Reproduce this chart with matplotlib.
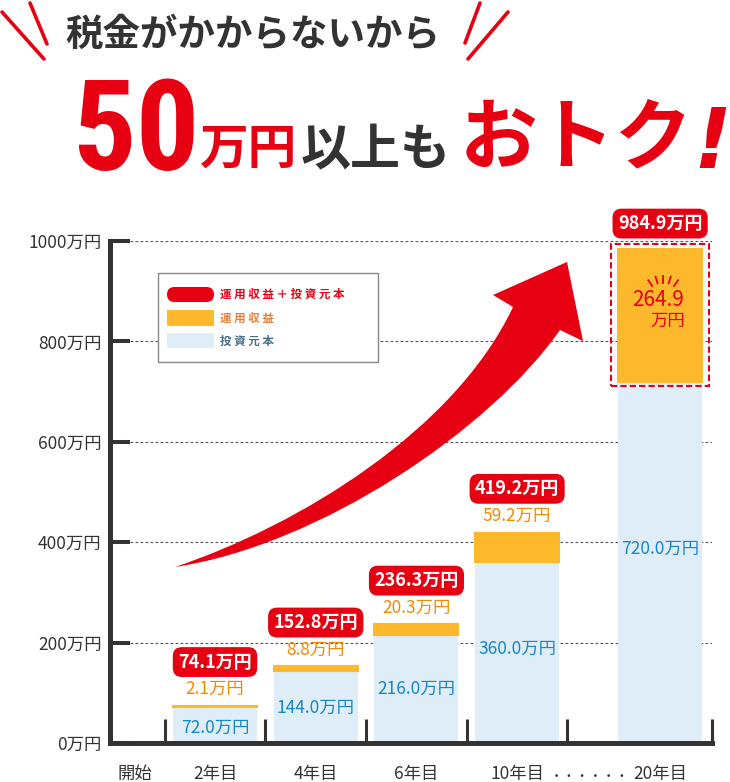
import os
import numpy as np
import matplotlib
matplotlib.use('Agg')
import matplotlib.pyplot as plt
from matplotlib import font_manager as fm
from matplotlib.font_manager import FontProperties
from matplotlib.patches import Rectangle, FancyBboxPatch, PathPatch
from matplotlib.path import Path
from matplotlib.transforms import IdentityTransform
from matplotlib.lines import Line2D

plt.rcParams['font.family'] = ['Noto Sans CJK JP', 'DejaVu Sans']

# data
labels = ['2年目', '4年目', '6年目', '10年目', '20年目']
principal = [72.0, 144.0, 216.0, 360.0, 720.0]
gain = [2.1, 8.8, 20.3, 59.2, 264.9]
total = [74.1, 152.8, 236.3, 419.2, 984.9]
yticks = [0, 200, 400, 600, 800, 1000]

RED = '#e60012'
ORANGE = '#fdb92b'
ORANGE_TXT = '#f28a00'
BLUE = '#deedf7'
BLUE_TXT = '#1587c9'
DARK = '#333333'

H = 782
ID = IdentityTransform()


def P(x, y):
    # pixel coords measured from top-left
    return (x, H - y)


# narrow bold face for the big "50", if one is installed
files = {os.path.basename(f.fname).rsplit('.', 1)[0]: f.fname for f in fm.fontManager.ttflist}
prop50 = FontProperties(family='Liberation Sans', weight='bold')
for c in ['LiberationSansNarrow-Bold', 'RobotoCondensed-Bold', 'NotoSans-ExtraCondensedBold',
          'NotoSans-CondensedBold', 'DejaVuSansCondensed-Bold', 'LiberationSans-Bold']:
    if c in files:
        prop50 = FontProperties(fname=files[c])
        break

fig = plt.figure(figsize=(7.3, 7.82), dpi=100)
ax = fig.add_axes([110 / 730, (H - 743) / H, (712 - 110) / 730, (743 - 241) / H])
ax.set_xlim(-0.043, 5.935)
ax.set_ylim(0, 1000)

xpos = [1, 2, 3, 4, 5.42]
w = 0.834

for s in ['top', 'right']:
    ax.spines[s].set_visible(False)
for s in ['left', 'bottom']:
    ax.spines[s].set_linewidth(3.6)
    ax.spines[s].set_color(DARK)

ax.set_yticks(yticks, [f'{v}万円' for v in yticks])
ax.tick_params(axis='y', direction='in', length=14.5, width=2.9, color=DARK,
               pad=6, labelsize=12.5, labelcolor=DARK)
ax.set_xticks([0.5, 1.5, 2.5, 3.5, 4.5, 5.935], [''] * 6)
ax.tick_params(axis='x', which='major', direction='in', length=17, width=2.2, color=DARK)
ax.set_xticks([0.2] + xpos, ['開始'] + labels, minor=True)
ax.tick_params(axis='x', which='minor', length=0, pad=16, labelsize=12.5, labelcolor=DARK)
ax.text(4.72, -0.067, '・・・・・・', transform=ax.get_xaxis_transform(),
        ha='center', va='center', fontsize=9.5, color=DARK)

ax.hlines(yticks[1:], 0.155, 5.935, colors='#555555', linestyles=(0, (2.5, 2)),
          linewidth=0.8, zorder=0.5)

ax.bar(xpos, principal, w, color=BLUE, zorder=2)
ax.bar(xpos, gain, w, bottom=principal, color=ORANGE, ec=ORANGE, lw=1.5, zorder=2)

red_box = dict(boxstyle='round,pad=0.3,rounding_size=0.5', fc=RED, ec='none')

for i in range(4):
    ax.annotate(f'{gain[i]}万円', (xpos[i], total[i]), xytext=(0, 12),
                textcoords='offset points', ha='center', va='center',
                color=ORANGE_TXT, fontsize=12.5)
    ax.annotate(f'{total[i]}万円', (xpos[i], total[i]), xytext=(0, 31.5),
                textcoords='offset points', ha='center', va='center',
                color='white', fontsize=13, fontweight='bold', bbox=red_box)

for i in range(5):
    ax.text(xpos[i], principal[i] * 0.55 - 10, f'{principal[i]}万円', ha='center',
            va='center', color=BLUE_TXT, fontsize=12.5, zorder=3)

# 20年目
xl, tl = xpos[-1], total[-1]
ax.annotate(f'{tl}万円', (xl, tl), xytext=(0, 18), textcoords='offset points',
            ha='center', va='center', color='white', fontsize=13,
            fontweight='bold', bbox=red_box)
ax.add_patch(Rectangle((xl - w / 2 - 0.07, principal[-1] - 9), w + 0.14, gain[-1] + 18,
                       fill=False, ec=RED, lw=1.5, ls=(0, (3, 1.5)), zorder=4,
                       clip_on=False))
ax.annotate(f'{gain[-1]}', (xl, tl), xytext=(-1.5, -37), textcoords='offset points',
            ha='center', va='center', color=RED, fontsize=15, zorder=4)
ax.annotate('万円', (xl, tl), xytext=(5.5, -52), textcoords='offset points',
            ha='center', va='center', color=RED, fontsize=12.5, zorder=4)
cx, cy = ax.transData.transform((xl, tl))
cx, cy = cx + 3, cy - 53
for a in np.radians([55, 73, 90, 107, 125]):
    fig.add_artist(Line2D([cx + 19 * np.cos(a), cx + 26 * np.cos(a)],
                          [cy + 19 * np.sin(a), cy + 26 * np.sin(a)],
                          transform=ID, color=RED, lw=1.3))

# arrow
verts = [P(175, 567), P(300, 525), P(455, 430), P(513, 307),
         P(493, 295), P(567, 262), P(583, 341), P(560, 330),
         P(490, 430), P(320, 545), P(175, 567), P(175, 567)]
codes = [Path.MOVETO, Path.CURVE4, Path.CURVE4, Path.CURVE4,
         Path.LINETO, Path.LINETO, Path.LINETO, Path.LINETO,
         Path.CURVE4, Path.CURVE4, Path.CURVE4, Path.CLOSEPOLY]
fig.add_artist(PathPatch(Path(verts, codes), transform=ID, fc=RED, ec='none'))

# legend
fig.add_artist(Rectangle(P(158, 362), 220, 89, transform=ID, fc='white', ec='#888888', lw=1))
fig.add_artist(FancyBboxPatch(P(167, 302), 47, 15, boxstyle='round,pad=0,rounding_size=7.5',
                              transform=ID, fc=RED, ec='none'))
fig.add_artist(Rectangle(P(167, 326), 47, 16, transform=ID, fc=ORANGE, ec='none'))
fig.add_artist(Rectangle(P(167, 348), 47, 15, transform=ID, fc=BLUE, ec='none'))
leg = [('運用収益＋投資元本', RED, 294), ('運用収益', '#e8803c', 318), ('投資元本', '#4a6f86', 341)]
for txt, col, yy in leg:
    fig.text(*P(220, yy), ' '.join(txt), transform=ID, ha='left', va='center',
             color=col, fontsize=8.3, fontweight='bold')

# headline
for (x0, y0), (x1, y1) in [((2, 12), (44, 59)), ((30, 3), (47, 44)),
                           ((465, 43), (480, 3)), ((468, 59), (508, 12))]:
    fig.add_artist(Line2D([x0, x1], [H - y0, H - y1], transform=ID, color=RED,
                          lw=2.6, solid_capstyle='round'))
fig.text(*P(253, 34), '税金がかからないから', transform=ID, ha='center', va='center',
         color=DARK, fontsize=27, fontweight='bold')
t50 = fig.text(*P(72, 170), '50', transform=ID, ha='left', va='baseline', color=RED,
               fontsize=90, fontproperties=prop50)
t50.set_fontsize(90)
bb = t50.get_window_extent(fig.canvas.get_renderer())
t50.set_fontsize(min(94, 94 * 122 / bb.width))
fig.text(*P(199, 164), '万円', transform=ID, ha='left', va='baseline', color=RED,
         fontsize=35, fontweight='bold')
fig.text(*P(301, 164), '以上も', transform=ID, ha='left', va='baseline', color=DARK,
         fontsize=36, fontweight='bold')
fig.text(*P(460, 163), 'おトク', transform=ID, ha='left', va='baseline', color=RED,
         fontsize=56, fontweight='bold')
fig.text(*P(693, 168), '!', transform=ID, ha='left', va='baseline', color=RED,
         fontsize=60, fontweight='bold', style='italic', family=['DejaVu Sans'])

fig.savefig('out.png', dpi=100)
